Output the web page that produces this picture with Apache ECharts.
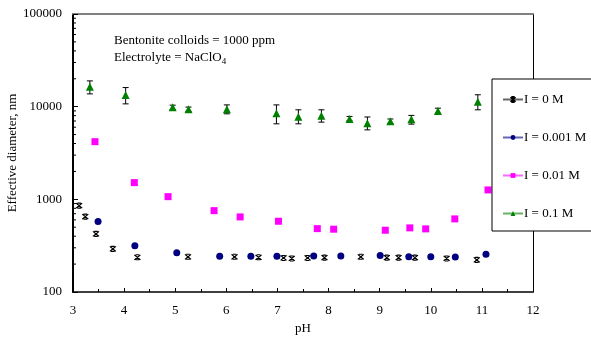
<!DOCTYPE html>
<html>
<head>
<meta charset="utf-8">
<script src="https://cdn.jsdelivr.net/npm/echarts@6/dist/echarts.min.js"></script>
<style>
  html, body { margin: 0; padding: 0; background: #fff; }
  #chart { width: 591px; height: 340px; }
</style>
</head>
<body>
<div id="chart"></div>
<script>
// pH values and effective diameters (nm)
const ph0 = [3.12, 3.24, 3.45, 3.78, 4.26, 5.25, 6.16, 6.63, 7.12, 7.28, 7.59, 7.92, 8.63, 9.14, 9.37, 9.69, 10.31, 10.90];
const dia0 = [855, 650, 424, 292, 237, 240, 240, 237, 233, 230, 233, 235, 240, 235, 235, 235, 230, 222];

const ph001 = [3.49, 4.21, 5.03, 5.87, 6.48, 6.99, 7.71, 8.24, 9.01, 9.57, 10.0, 10.48, 11.08];
const dia001 = [575, 316, 266, 243, 243, 243, 245, 245, 248, 240, 240, 238, 256];

const ph01 = [3.43, 4.20, 4.86, 5.76, 6.27, 7.02, 7.78, 8.10, 9.11, 9.59, 9.90, 10.47, 11.12];
const dia01 = [4190, 1514, 1069, 755, 646, 580, 483, 476, 464, 492, 480, 615, 1263];
const err01Ph = [4.20, 11.12];
const err01Low = [1430, 1190];
const err01High = [1600, 1340];

const ph1 = [3.33, 4.03, 4.95, 5.26, 6.01, 6.98, 7.41, 7.86, 8.41, 8.76, 9.21, 9.62, 10.14, 10.92];
const dia1 = [16440, 13370, 9860, 9380, 9380, 8490, 7800, 7970, 7370, 6620, 6960, 7320, 8990, 11320];
const err1Low = [13740, 10720, 9250, 8900, 8370, 6530, 6530, 6810, 7040, 5620, 6600, 6480, 8480, 9250];
const err1High = [18970, 16070, 10380, 9900, 10450, 10450, 9250, 9250, 7850, 7740, 7360, 8050, 9630, 13440];

const seriesNames = ['I = 0 M', 'I = 0.001 M', 'I = 0.01 M', 'I = 0.1 M'];
const yMinorTicks = [200, 300, 400, 500, 600, 700, 800, 900,
  2000, 3000, 4000, 5000, 6000, 7000, 8000, 9000,
  20000, 30000, 40000, 50000, 60000, 70000, 80000, 90000];

const FONT = '"Liberation Serif", "Times New Roman", serif';
const STAR = 'path://M0,0 L10,10 M10,0 L0,10 M2,0 L8,0 M2,10 L8,10';

const zip = (xs, ys) => xs.map((x, i) => [x, ys[i]]);

const errData = [
  ...ph1.map((p, i) => [p, err1Low[i], err1High[i]]),
  ...err01Ph.map((p, i) => [p, err01Low[i], err01High[i]]),
];

function renderErr(params, api) {
  const x = api.value(0);
  const lo = api.coord([x, api.value(1)]);
  const hi = api.coord([x, api.value(2)]);
  const cap = 3;
  const style = { stroke: '#000', lineWidth: 1 };
  return {
    type: 'group',
    children: [
      { type: 'line', shape: { x1: lo[0], y1: lo[1], x2: hi[0], y2: hi[1] }, style },
      { type: 'line', shape: { x1: lo[0] - cap, y1: lo[1], x2: lo[0] + cap, y2: lo[1] }, style },
      { type: 'line', shape: { x1: hi[0] - cap, y1: hi[1], x2: hi[0] + cap, y2: hi[1] }, style },
    ],
  };
}

function renderMinor(params, api) {
  const p = api.coord([3, api.value(0)]);
  return {
    type: 'line',
    shape: { x1: p[0], y1: p[1], x2: p[0] + 3, y2: p[1] },
    style: { stroke: '#000', lineWidth: 1 },
  };
}

const pointSeries = (name, data, symbol, size, color, extra) => Object.assign({
  name,
  type: 'line',
  data,
  symbol,
  symbolSize: size,
  showSymbol: true,
  showAllSymbol: true,
  lineStyle: { color, opacity: 0 },
  itemStyle: { color },
  emphasis: { disabled: true },
  animation: false,
  z: 5,
}, extra || {});

const chart = echarts.init(document.getElementById('chart'));

chart.setOption({
  backgroundColor: '#fff',
  animation: false,
  textStyle: { fontFamily: FONT },
  title: {
    left: 109,
    top: 27,
    text: 'Bentonite colloids = 1000 ppm\nElectrolyte = NaClO{sub|4}',
    textStyle: {
      fontFamily: FONT,
      fontSize: 13,
      fontWeight: 'normal',
      color: '#000',
      lineHeight: 17,
      rich: {
        sub: { fontFamily: FONT, fontSize: 9, verticalAlign: 'bottom', padding: [6, 0, 0, 0], color: '#000' },
      },
    },
  },
  legend: {
    orient: 'vertical',
    left: 492,
    top: 79,
    padding: [14, 8, 11, 10],
    itemGap: 25,
    itemWidth: 20,
    itemHeight: 6,
    borderColor: '#000',
    borderWidth: 1,
    borderRadius: 0,
    backgroundColor: '#fff',
    textStyle: { fontFamily: FONT, fontSize: 13, color: '#000', padding: [0, 0, 0, -4] },
    lineStyle: { opacity: 0.6, width: 2 },
    data: seriesNames,
    z: 10,
  },
  grid: { left: 73, right: 58, top: 14, bottom: 48, show: false, outerBoundsMode: 'none', containLabel: false },
  xAxis: [
    {
      type: 'value',
      min: 3,
      max: 12,
      interval: 1,
      name: 'pH',
      nameLocation: 'middle',
      nameGap: 29,
      nameTextStyle: { fontFamily: FONT, fontSize: 13, color: '#000' },
      axisLine: { lineStyle: { color: '#000', width: 1.5 } },
      axisTick: { inside: true, length: 4, lineStyle: { color: '#000' } },
      minorTick: { show: true, splitNumber: 2, length: 3, lineStyle: { color: '#000' } },
      axisLabel: { margin: 12, fontFamily: FONT, fontSize: 13, color: '#000' },
      splitLine: { show: false },
    },
    {
      type: 'value',
      position: 'top',
      min: 3,
      max: 12,
      axisLine: { show: true, lineStyle: { color: '#808080', width: 2 } },
      axisTick: { show: false },
      axisLabel: { show: false },
      splitLine: { show: false },
    },
  ],
  yAxis: [
    {
      type: 'log',
      logBase: 10,
      min: 100,
      max: 100000,
      name: 'Effective diameter, nm',
      nameLocation: 'middle',
      nameGap: 54,
      nameMoveOverlap: false,
      nameTextStyle: { fontFamily: FONT, fontSize: 13, color: '#000' },
      axisLine: { show: true, lineStyle: { color: '#000', width: 2 } },
      axisTick: { inside: true, length: 5, lineStyle: { color: '#000' } },
      axisLabel: { margin: 11, fontFamily: FONT, fontSize: 13, color: '#000', formatter: (v) => String(Math.round(v)) },
      splitLine: { show: false },
    },
    {
      type: 'log',
      logBase: 10,
      min: 100,
      max: 100000,
      position: 'right',
      axisLine: { show: true, lineStyle: { color: '#000', width: 1 } },
      axisTick: { show: false },
      axisLabel: { show: false },
      splitLine: { show: false },
    },
  ],
  series: [
    {
      type: 'custom',
      renderItem: renderMinor,
      data: yMinorTicks.map((v) => [v]),
      encode: { y: 0 },
      silent: true,
      z: 1,
    },
    {
      type: 'custom',
      renderItem: renderErr,
      data: errData,
      encode: { x: 0, y: [1, 2] },
      silent: true,
      z: 2,
    },
    pointSeries(seriesNames[0], zip(ph0, dia0), STAR, [6, 5], '#000',
      { itemStyle: { color: 'transparent', borderColor: '#000', borderWidth: 1.2 }, lineStyle: { color: '#000', opacity: 0 } }),
    pointSeries(seriesNames[1], zip(ph001, dia001), 'circle', 7, '#000080'),
    pointSeries(seriesNames[2], zip(ph01, dia01), 'rect', 7, '#ff00ff'),
    pointSeries(seriesNames[3], zip(ph1, dia1), 'triangle', 8, '#008000'),
  ],
});
</script>
</body>
</html>
